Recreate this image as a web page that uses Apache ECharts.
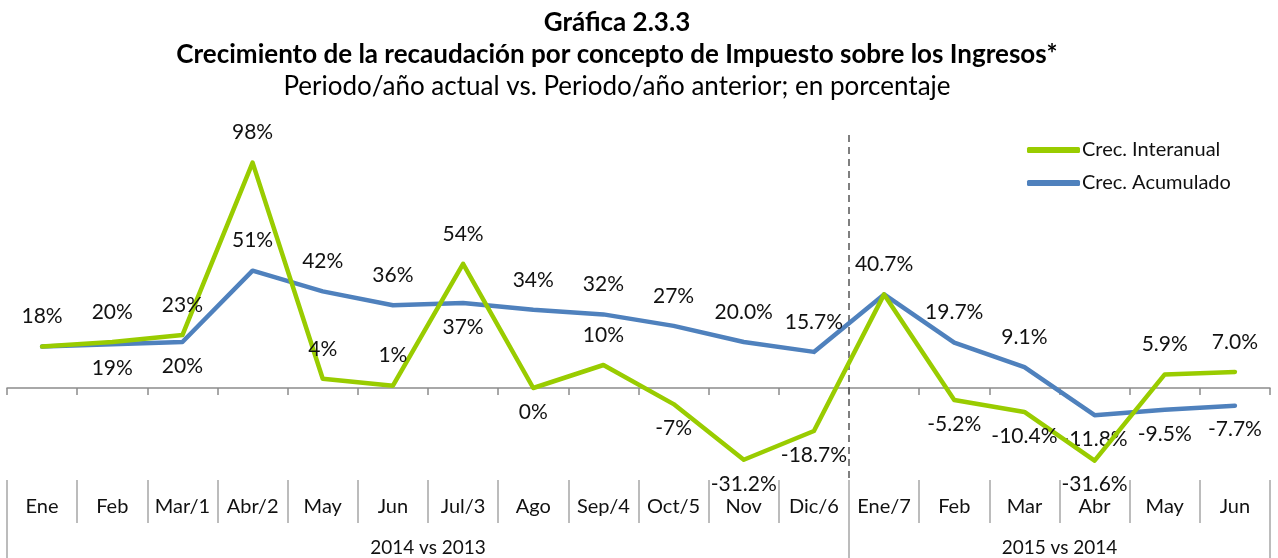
<!DOCTYPE html>
<html>
<head>
<meta charset="utf-8">
<script src="https://cdn.jsdelivr.net/npm/echarts@6/dist/echarts.min.js"></script>
<style>
  html, body { margin: 0; padding: 0; background: #fff; }
  #chart { width: 1278px; height: 558px; }
</style>
</head>
<body>
<div id="chart"></div>
<script>
// categorias (meses) y grupos
const categorias = ['Ene', 'Feb', 'Mar/1', 'Abr/2', 'May', 'Jun', 'Jul/3', 'Ago', 'Sep/4', 'Oct/5', 'Nov', 'Dic/6',
                    'Ene/7', 'Feb', 'Mar', 'Abr', 'May', 'Jun'];
const grupos = ['2014 vs 2013', '2015 vs 2014'];
const gruposInicio = [0, 12, 18];   // limites de cada grupo (en categorias)

// valores en porcentaje
const interanual = [18, 20, 23, 98, 4, 1, 54, 0, 10, -7, -31.2, -18.7,
                    40.7, -5.2, -10.4, -31.6, 5.9, 7.0];
const acumulado  = [18, 19, 20, 51, 42, 36, 37, 34, 32, 27, 20.0, 15.7,
                    40.7, 19.7, 9.1, -11.8, -9.5, -7.7];
// decimales de cada etiqueta
const decimales  = [0, 0, 0, 0, 0, 0, 0, 0, 0, 0, 1, 1,
                    1, 1, 1, 1, 1, 1];

const FONT = 'Lato';
const verde = '#99CC00';
const azul = '#4F81BD';
const gris = '#8c8c8c';

function fmt(v, i) {
    return v.toFixed(decimales[i]) + '%';
}
// etiqueta arriba si es positiva, salvo que la otra serie quede justo encima
function posicion(v, otro) {
    if (v > 0 && !(otro > v && otro - v < 20)) return 'top';
    return 'bottom';
}
function serie(nombre, valores, otros, color, ocultarIguales) {
    return {
        name: nombre,
        type: 'line',
        xAxisIndex: 0,
        symbol: 'circle',
        symbolSize: 1,
        showSymbol: true,
        z: nombre === 'Crec. Interanual' ? 3 : 2,
        lineStyle: { color: color, width: 4.5, cap: 'round', join: 'round' },
        itemStyle: { color: color },
        data: valores.map((v, i) => {
            const pos = posicion(v, otros[i]);
            return {
                value: v,
                label: {
                    show: !(ocultarIguales && v === otros[i]),
                    position: pos,
                    distance: pos === 'top' ? 19 : 13
                }
            };
        }),
        label: {
            show: true,
            formatter: p => fmt(p.value, p.dataIndex),
            fontFamily: FONT,
            fontSize: 21,
            color: '#111'
        }
    };
}

let myChart = echarts.init(document.getElementById('chart'));
myChart.setOption({
    animation: false,
    title: {
        left: 612,
        textAlign: 'center',
        top: 2,
        text: '{b|Gráfica 2.3.3}\n{b|Crecimiento de la recaudación por concepto de Impuesto sobre los Ingresos*}\n{n|Periodo/año actual vs. Periodo/año anterior; en porcentaje}',
        textStyle: {
            rich: {
                b: { fontFamily: FONT, fontSize: 26, fontWeight: 'bold', color: '#000', lineHeight: 32, align: 'center' },
                n: { fontFamily: FONT, fontSize: 26, fontWeight: 'normal', color: '#000', lineHeight: 32, align: 'center' }
            }
        }
    },
    legend: {
        orient: 'vertical',
        left: 1022,
        top: 135,
        itemGap: 13,
        icon: 'roundRect',
        itemWidth: 53,
        itemHeight: 6,
        textStyle: { fontFamily: FONT, fontSize: 20, color: '#111', padding: [0, 0, 0, -3] },
        data: ['Crec. Interanual', 'Crec. Acumulado']
    },
    grid: { left: 7, right: 8, top: 135, bottom: 78 },
    xAxis: [
        {   // linea del cero con marcas
            type: 'category',
            data: categorias,
            axisLine: { onZero: true, lineStyle: { color: gris, width: 1.5 } },
            axisTick: { show: true, interval: 0, length: 7, lineStyle: { color: gris, width: 1.5 } },
            axisLabel: { show: false }
        },
        {   // fila de meses abajo
            type: 'category',
            data: categorias,
            position: 'bottom',
            axisLine: { show: false, onZero: false },
            axisTick: { show: true, interval: 0, length: 43, lineStyle: { color: '#a6a6a6', width: 1.5 } },
            axisLabel: { interval: 0, margin: 17, fontFamily: FONT, fontSize: 20, color: '#111' }
        },
        {   // fila de grupos
            type: 'value',
            min: 0,
            max: 18,
            position: 'bottom',
            axisLine: { show: false, onZero: false },
            splitLine: { show: false },
            axisTick: { show: true, customValues: gruposInicio, length: 78, lineStyle: { color: '#a6a6a6', width: 1.5 } },
            axisLabel: {
                customValues: [6, 15],
                margin: 58,
                fontFamily: FONT, fontSize: 19, color: '#111',
                formatter: v => (v < 12 ? grupos[0] : grupos[1])
            }
        },
        {   // separador discontinuo entre años
            type: 'value',
            min: 0,
            max: 18,
            position: 'top',
            axisLine: { show: false, onZero: false },
            splitLine: { show: false },
            axisLabel: { show: false },
            axisTick: { show: true, inside: true, customValues: [gruposInicio[1]], length: 345,
                        lineStyle: { color: '#555', width: 1.5, type: [7, 5] } }
        }
    ],
    yAxis: {
        type: 'value',
        min: -40,
        max: 110,
        interval: 10,
        show: false
    },
    series: [
        serie('Crec. Interanual', interanual, acumulado, verde, false),
        serie('Crec. Acumulado', acumulado, interanual, azul, true)
    ]
});
</script>
</body>
</html>
